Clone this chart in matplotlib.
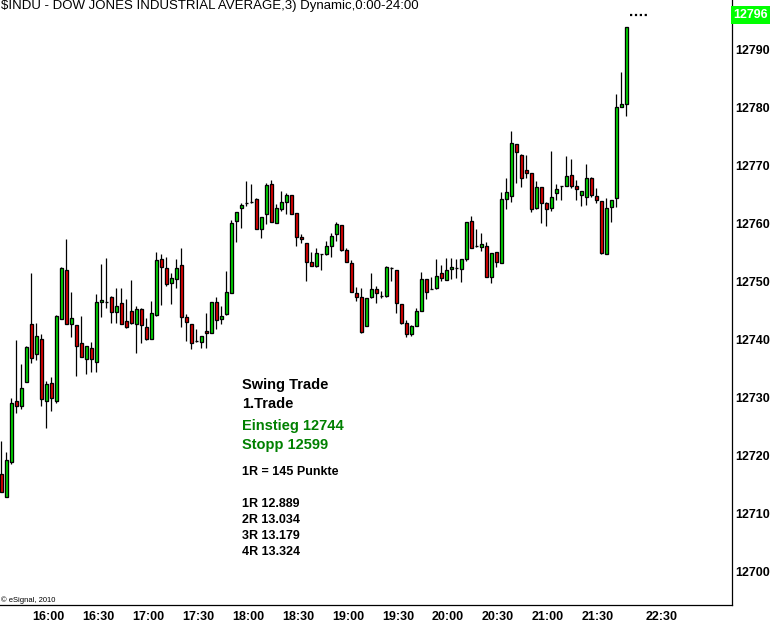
import numpy as np
import matplotlib.pyplot as plt

plt.rcParams['font.family'] = ['Liberation Sans', 'DejaVu Sans']

TITLE = '$INDU - DOW JONES INDUSTRIAL AVERAGE,3) Dynamic,0:00-24:00'

# 3-minute bars, first bar at 15:33
opens = [12716.9, 12712.9, 12719.0, 12729.5, 12728.6, 12732.8, 12742.8, 12737.6, 12740.2, 12729.5,
         12732.6, 12729.5, 12743.6, 12752.1, 12742.8, 12742.6, 12739.5, 12736.7, 12738.6, 12736.2,
         12746.6, 12746.6, 12747.4, 12744.8, 12746.4, 12743.3, 12745.0, 12742.8, 12745.3, 12742.2,
         12740.2, 12744.3, 12754.0, 12752.4, 12749.8, 12750.5, 12752.9, 12744.0, 12742.8, 12739.8,
         12739.7, 12741.6, 12741.2, 12746.6, 12743.6, 12744.5, 12748.1, 12760.5, 12762.8, 12763.6,
         12763.8, 12764.3, 12759.1, 12761.7, 12766.9, 12760.2, 12762.6, 12763.8, 12765.0, 12761.9,
         12757.8, 12756.7, 12753.4, 12752.8, 12754.8, 12754.8, 12756.2, 12758.3, 12759.8, 12755.5,
         12753.3, 12748.1, 12747.4, 12742.4, 12747.4, 12748.8, 12747.6, 12747.6, 12752.4, 12752.1,
         12746.2, 12742.9, 12741.0, 12742.4, 12745.0, 12750.5, 12748.8, 12749.0, 12751.5, 12750.3,
         12752.2, 12752.4, 12752.2, 12754.0, 12760.5, 12756.2, 12756.0, 12756.2, 12750.9, 12755.2,
         12753.3, 12764.3, 12764.8, 12773.8, 12771.9, 12769.3, 12768.8, 12762.8, 12766.4, 12763.6,
         12762.8, 12765.3, 12766.6, 12766.6, 12768.5, 12766.6, 12765.0, 12764.7, 12767.9, 12764.8,
         12764.0, 12754.8, 12762.9, 12764.5, 12780.2, 12780.7]
highs = [12722.6, 12720.7, 12730.0, 12740.0, 12735.9, 12739.0, 12751.5, 12742.9, 12741.0, 12732.9,
         12733.6, 12744.3, 12752.6, 12757.4, 12748.3, 12742.6, 12744.1, 12739.0, 12739.7, 12747.9,
         12753.1, 12754.1, 12747.6, 12749.0, 12749.0, 12747.1, 12750.3, 12745.9, 12745.5, 12743.8,
         12746.7, 12755.2, 12754.8, 12754.3, 12751.5, 12754.0, 12755.9, 12744.5, 12742.8, 12741.9,
         12740.7, 12744.6, 12746.6, 12747.4, 12745.9, 12751.9, 12760.7, 12762.1, 12763.6, 12767.4,
         12766.9, 12764.5, 12761.2, 12767.1, 12767.6, 12763.4, 12765.7, 12765.3, 12765.0, 12761.9,
         12758.3, 12756.7, 12755.2, 12755.9, 12754.8, 12757.1, 12758.4, 12760.3, 12759.8, 12755.9,
         12753.8, 12749.1, 12749.0, 12747.2, 12751.5, 12749.3, 12748.4, 12752.8, 12752.6, 12752.1,
         12746.2, 12743.4, 12742.6, 12745.5, 12751.7, 12750.5, 12750.9, 12753.9, 12752.9, 12754.1,
         12754.1, 12754.0, 12754.0, 12760.3, 12761.4, 12759.1, 12758.4, 12756.9, 12755.0, 12755.2,
         12765.5, 12767.9, 12776.0, 12773.8, 12772.1, 12771.9, 12768.8, 12767.4, 12766.4, 12763.8,
         12772.6, 12766.9, 12766.6, 12771.7, 12771.2, 12767.6, 12765.7, 12770.3, 12768.1, 12766.2,
         12764.0, 12764.5, 12764.1, 12782.4, 12786.2, 12794.0]
lows = [12713.8, 12712.9, 12718.6, 12727.4, 12728.1, 12732.8, 12736.0, 12736.6, 12728.6, 12724.8,
        12727.7, 12729.1, 12743.6, 12742.8, 12740.5, 12733.8, 12737.1, 12734.1, 12734.5, 12734.5,
        12744.0, 12745.5, 12742.9, 12742.9, 12742.8, 12742.1, 12742.8, 12737.8, 12739.5, 12740.0,
        12740.2, 12744.1, 12746.0, 12749.3, 12746.2, 12749.0, 12742.2, 12739.8, 12738.4, 12739.7,
        12738.6, 12738.6, 12741.2, 12741.9, 12742.8, 12744.3, 12748.1, 12756.9, 12759.3, 12763.1,
        12763.6, 12759.1, 12757.6, 12760.0, 12760.3, 12760.2, 12762.2, 12761.7, 12761.7, 12756.2,
        12756.7, 12750.2, 12752.8, 12752.6, 12752.1, 12754.7, 12754.3, 12757.1, 12755.3, 12753.4,
        12748.3, 12746.7, 12741.2, 12742.4, 12747.2, 12746.4, 12747.2, 12747.4, 12750.2, 12744.6,
        12742.8, 12740.5, 12740.7, 12742.4, 12745.0, 12747.1, 12748.8, 12748.8, 12750.2, 12750.3,
        12750.5, 12750.7, 12750.0, 12753.6, 12755.9, 12756.0, 12755.3, 12750.9, 12749.8, 12752.6,
        12753.3, 12762.6, 12763.8, 12767.1, 12766.4, 12767.9, 12762.1, 12762.6, 12760.2, 12759.7,
        12762.2, 12764.1, 12764.1, 12766.6, 12766.2, 12764.1, 12763.1, 12763.3, 12764.7, 12763.6,
        12754.8, 12754.8, 12760.3, 12762.9, 12780.2, 12778.6]
closes = [12713.8, 12719.3, 12729.1, 12728.6, 12731.7, 12738.8, 12736.9, 12740.7, 12729.8, 12732.4,
          12730.0, 12744.1, 12752.4, 12742.8, 12743.8, 12739.0, 12737.1, 12739.0, 12736.7, 12746.6,
          12746.9, 12746.6, 12744.8, 12745.9, 12742.8, 12742.2, 12742.9, 12745.3, 12742.6, 12740.2,
          12744.6, 12753.8, 12752.6, 12749.7, 12750.7, 12752.4, 12744.0, 12743.1, 12739.5, 12739.8,
          12740.7, 12741.2, 12746.6, 12743.4, 12744.1, 12748.3, 12760.2, 12762.1, 12763.3, 12763.6,
          12763.8, 12759.1, 12761.2, 12766.7, 12760.3, 12762.8, 12763.8, 12765.0, 12761.7, 12757.8,
          12757.4, 12753.4, 12752.8, 12755.0, 12754.8, 12756.2, 12757.9, 12760.0, 12755.5, 12753.4,
          12748.3, 12747.4, 12741.4, 12747.2, 12748.8, 12748.1, 12747.6, 12752.6, 12752.4, 12746.4,
          12742.9, 12741.0, 12742.4, 12745.0, 12750.5, 12748.3, 12748.8, 12751.0, 12750.7, 12752.1,
          12752.6, 12752.4, 12754.0, 12760.3, 12755.9, 12756.2, 12756.6, 12750.9, 12755.0, 12753.4,
          12764.3, 12765.5, 12774.0, 12772.4, 12767.9, 12768.8, 12762.6, 12766.4, 12763.6, 12762.6,
          12764.7, 12766.0, 12766.6, 12768.3, 12766.6, 12766.0, 12765.7, 12767.9, 12765.0, 12764.1,
          12755.0, 12762.8, 12764.1, 12780.2, 12780.7, 12794.0]
last_price = 12796

time_labels = ['16:00', '16:30', '17:00', '17:30', '18:00', '18:30', '19:00',
               '19:30', '20:00', '20:30', '21:00', '21:30', '22:30']
y_ticks = list(range(12700, 12791, 10))

trade_lines = [('Swing Trade', 'black', 10.5), ('1.Trade', 'black', 10.5),
               ('Einstieg 12744', '#008000', 10.5), ('Stopp 12599', '#008000', 10.5),
               ('1R = 145 Punkte', 'black', 9), ('1R 12.889', 'black', 9),
               ('2R 13.034', 'black', 9), ('3R 13.179', 'black', 9), ('4R 13.324', 'black', 9)]
trade_y = [385, 404, 426, 445, 472, 504, 520, 536, 552]   # pixel rows of the note

GREEN = '#00e000'
RED = '#e80000'
W, H = 770, 625

o, h, l, c = (np.array(a) for a in (opens, highs, lows, closes))
x = np.arange(len(c))

fig = plt.figure(figsize=(W / 100, H / 100), dpi=100)
fig.patch.set_facecolor('white')
ax = fig.add_axes([0, 20 / H, 732 / W, 605 / H])

# wicks then bodies
ax.vlines(x, l, h, color='black', lw=0.9, zorder=2)
body_col = np.where(c > o, GREEN, np.where(c < o, RED, 'black'))
ax.bar(x, np.abs(c - o), bottom=np.minimum(o, c), width=0.68,
       color=body_col, edgecolor='black', linewidth=0.95, zorder=3)

# current price marker
ax.hlines(last_price, x[-1] + 0.8, x[-1] + 4.3, colors='black',
          linestyles=(0, (1, 1.2)), lw=1.6, zorder=3)
ax.text(1.0 + 1.5 / 732, last_price, str(last_price),
        transform=ax.get_yaxis_transform(), ha='left', va='center',
        fontsize=9, fontweight='bold', color='white', clip_on=False,
        bbox=dict(boxstyle='square,pad=0.22', fc='#00ff00', ec='none'))

ax.set_xlim(-0.26, 146.14)
ax.set_ylim(12694.31, 12798.62)

# tick positions from bar times (start 15:33, 3 min); axis compresses after close
start = 15 * 60 + 33
xt = [(int(t[:2]) * 60 + int(t[3:]) - start) / 3 + 0.35 for t in time_labels[:-1]] + [132]
ax.set_xticks(xt)
ax.set_xticklabels(time_labels, fontsize=9, fontweight='bold')
ax.set_yticks(y_ticks)
ax.set_yticklabels([str(v) for v in y_ticks], fontsize=9, fontweight='bold')
ax.yaxis.tick_right()
ax.tick_params(axis='y', length=0, pad=2)
ax.tick_params(axis='x', length=0, pad=4.5)

for s in ['top', 'left']:
    ax.spines[s].set_visible(False)
for s in ['right', 'bottom']:
    ax.spines[s].set_color('black')
    ax.spines[s].set_linewidth(0.9)

fig.text(1 / W, 1 - 6 / H, TITLE, fontsize=9.5, va='center', ha='left')
fig.text(1 / W, 1 - 600 / H, '© eSignal, 2010', fontsize=5.5, va='center', ha='left')

for (txt, col, fs), py in zip(trade_lines, trade_y):
    fig.text(242 / W, 1 - py / H, txt, color=col, fontsize=fs,
             fontweight='bold', va='center', ha='left')

fig.savefig('out.png', dpi=100, facecolor='white')
